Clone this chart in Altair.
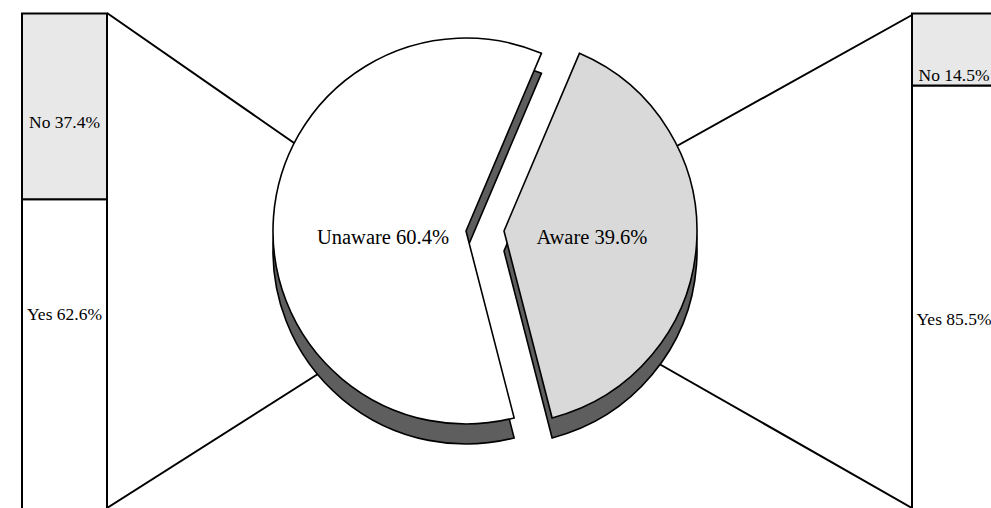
import math
import altair as alt
import pandas as pd

# ---------------- data ----------------
pie_groups = ["Aware", "Unaware"]
pie_values = [39.6, 60.4]
bar_answers = ["Yes", "No"]
unaware_bar_values = [62.6, 37.4]   # left bar (breakdown of Unaware)
aware_bar_values = [85.5, 14.5]     # right bar (breakdown of Aware)

pie_df = pd.DataFrame({"group": pie_groups, "value": pie_values})
pie_df["end"] = pie_df["value"].cumsum()
pie_df["start"] = pie_df["end"] - pie_df["value"]
pie_df["label"] = [f"{g} {v:.1f}%" for g, v in zip(pie_groups, pie_values)]

rows = []
for grp, vals in (("Unaware", unaware_bar_values), ("Aware", aware_bar_values)):
    s = 0.0
    for a, v in zip(bar_answers, vals):
        rows.append(dict(group=grp, answer=a, value=v, start=s, end=s + v,
                         label=f"{a} {v:.1f}%"))
        s += v
bar_df = pd.DataFrame(rows)
bar_df["mid"] = (bar_df["start"] + bar_df["end"]) / 2

# ---------------- layout ----------------
W, H = 991, 508
R = 193
DEPTH = 20
CENTERS = {"Unaware": (466, 231), "Aware": (504, 231)}
A0 = math.radians(23)
FONT = "Liberation Serif"
BAR_X = {"Unaware": (22, 107), "Aware": (912, 996)}
LABEL_DY = {("Unaware", "No"): 17, ("Unaware", "Yes"): -40,
            ("Aware", "No"): 27, ("Aware", "Yes"): 22}
CONNECTORS = [((107, 13), (320, 161)), ((107, 508), (340, 360)),
              ((912, 15), (650, 161)), ((912, 508), (640, 353))]
FACE = {"Unaware": "#ffffff", "Aware": "#d9d9d9"}
SHADOW = "#5e5e5e"
NO_FILL = "#e8e8e8"

theta_scale = alt.Scale(domain=[0, 100], range=[A0, A0 + 2 * math.pi])
y_scale = alt.Scale(domain=[0, 100], range=[510, 13.5])

one = pd.DataFrame({"k": [0]})
layers = []

# connector lines
for (x1, y1), (x2, y2) in CONNECTORS:
    layers.append(
        alt.Chart(one).mark_rule(color="black", strokeWidth=2).encode(
            x=alt.value(x1), y=alt.value(y1), x2=alt.value(x2), y2=alt.value(y2)
        )
    )


def slice_layer(group, dy, fill):
    cx, cy = CENTERS[group]
    return (
        alt.Chart(pie_df)
        .transform_filter(alt.datum.group == group)
        .mark_arc(radius=R, fill=fill, stroke="black", strokeWidth=1.6)
        .encode(
            theta=alt.Theta("start:Q", stack=None, scale=theta_scale),
            theta2="end:Q",
            x=alt.value(cx),
            y=alt.value(cy + dy),
        )
    )


for g in pie_groups:
    layers.append(slice_layer(g, DEPTH, SHADOW))
for g in pie_groups:
    layers.append(slice_layer(g, 0, FACE[g]))

# pie labels
PIE_LABEL_POS = {"Unaware": (383, 238), "Aware": (592, 238)}
for g in pie_groups:
    px, py = PIE_LABEL_POS[g]
    layers.append(
        alt.Chart(pie_df)
        .transform_filter(alt.datum.group == g)
        .mark_text(font=FONT, fontSize=20.5, color="black", align="center", baseline="middle")
        .encode(text="label:N", x=alt.value(px), y=alt.value(py))
    )

# stacked bars
for g in ("Unaware", "Aware"):
    x1, x2 = BAR_X[g]
    layers.append(
        alt.Chart(bar_df)
        .transform_filter(alt.datum.group == g)
        .mark_rect(stroke="black", strokeWidth=2)
        .encode(
            x=alt.value(x1),
            x2=alt.value(x2),
            y=alt.Y("start:Q", scale=y_scale, axis=None),
            y2="end:Q",
            fill=alt.Fill("answer:N", scale=alt.Scale(domain=["Yes", "No"], range=["#ffffff", NO_FILL]), legend=None),
        )
    )
    for a in bar_answers:
        layers.append(
            alt.Chart(bar_df)
            .transform_filter((alt.datum.group == g) & (alt.datum.answer == a))
            .mark_text(font=FONT, fontSize=17.5, color="black", align="center", baseline="middle")
            .encode(
                text="label:N",
                x=alt.value((x1 + x2) / 2),
                y=alt.Y("mid:Q", scale=y_scale, axis=None),
                yOffset=alt.value(LABEL_DY[(g, a)]),
            )
        )

chart = (
    alt.layer(*layers)
    .properties(width=W, height=H, padding=0, autosize=alt.AutoSizeParams(type="none"), background="white")
    .configure_view(stroke=None)
)

chart.save("out.html", embed_options={"renderer": "svg", "actions": False})
